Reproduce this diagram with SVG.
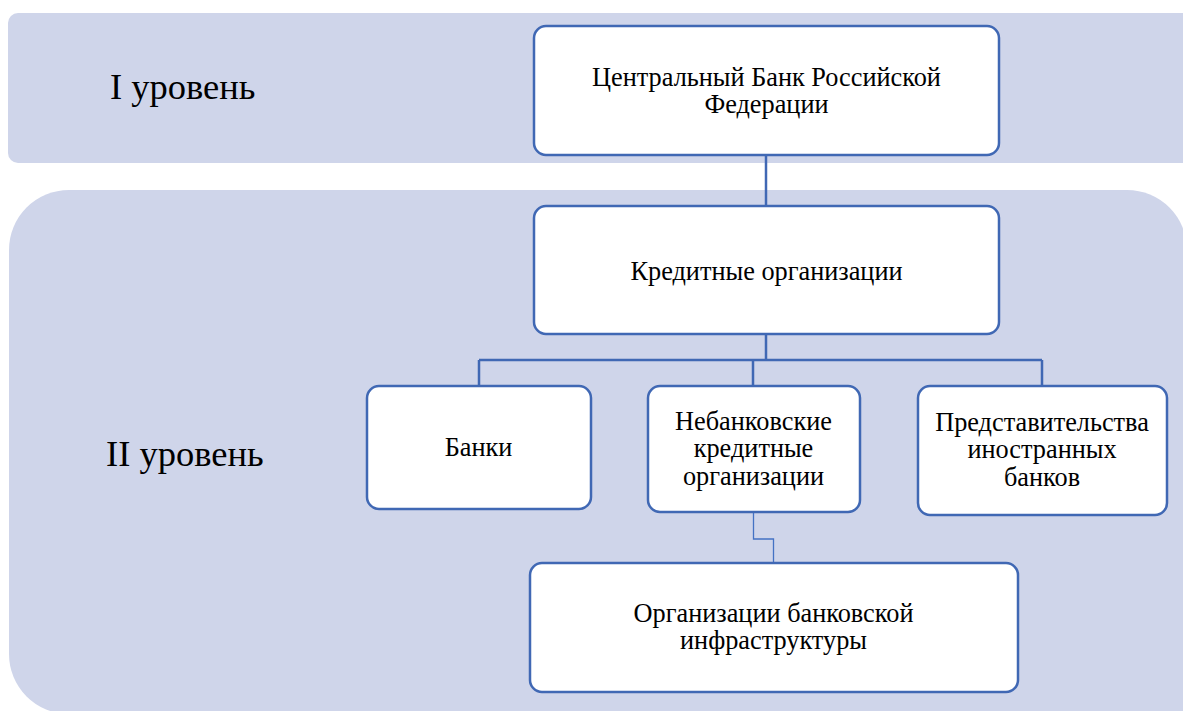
<svg xmlns="http://www.w3.org/2000/svg" width="1183" height="711" viewBox="0 0 1183 711">
<style>
.band{fill:#CFD5EA}
.node{fill:#FFFFFF;stroke:#4068B4;stroke-width:2.5}
.t{font-size:26.3px;fill:#000;text-anchor:middle}
.lvl{font-size:36.5px;fill:#000}
.c{fill:none;stroke:#4068B4;stroke-width:2.5}
.c2{fill:none;stroke:#4472C4;stroke-width:1.3}
</style>
<rect width="1183" height="711" fill="#FFFFFF"/>
<g font-family="'Liberation Serif', 'Times New Roman', serif">
<g id="band1"><rect class="band" x="8" y="13" width="1200" height="150" rx="10"/><text class="lvl" x="110" y="99">I уровень</text></g>
<g id="band2"><path class="band" d="M69 190H1127A60 60 0 0 1 1187 250V714H69A60 60 0 0 1 9 654V250A60 60 0 0 1 69 190Z"/><text class="lvl" x="106" y="466">II уровень</text></g>
<g id="connectors">
<path class="c" d="M766 155V206"/>
<path class="c" d="M766 334V360M479 360H1042M479 360V386M753 360V386M1042 360V386"/>
<path class="c2" d="M753.5 513V539H773.5V563"/>
</g>
<g id="cb"><rect class="node" x="534" y="26" width="465" height="129" rx="12"/><text class="t" x="766.5" y="86">Центральный Банк Российской</text><text class="t" x="766.5" y="113">Федерации</text></g>
<g id="credit"><rect class="node" x="534" y="206" width="465" height="128" rx="12"/><text class="t" x="766.5" y="280">Кредитные организации</text></g>
<g id="banks"><rect class="node" x="367" y="386" width="224" height="123" rx="12"/><text class="t" x="478.5" y="456">Банки</text></g>
<g id="nonbank"><rect class="node" x="648" y="386" width="212" height="126" rx="12"/><text class="t" x="753.5" y="430">Небанковские</text><text class="t" x="753.5" y="457">кредитные</text><text class="t" x="753.5" y="485">организации</text></g>
<g id="reps"><rect class="node" x="918" y="386" width="249" height="129" rx="12"/><text class="t" x="1042" y="431">Представительства</text><text class="t" x="1042" y="458">иностранных</text><text class="t" x="1042" y="486">банков</text></g>
<g id="infra"><rect class="node" x="530" y="563" width="488" height="129" rx="12"/><text class="t" x="773.5" y="622">Организации банковской</text><text class="t" x="773.5" y="649">инфраструктуры</text></g>
</g>
</svg>
